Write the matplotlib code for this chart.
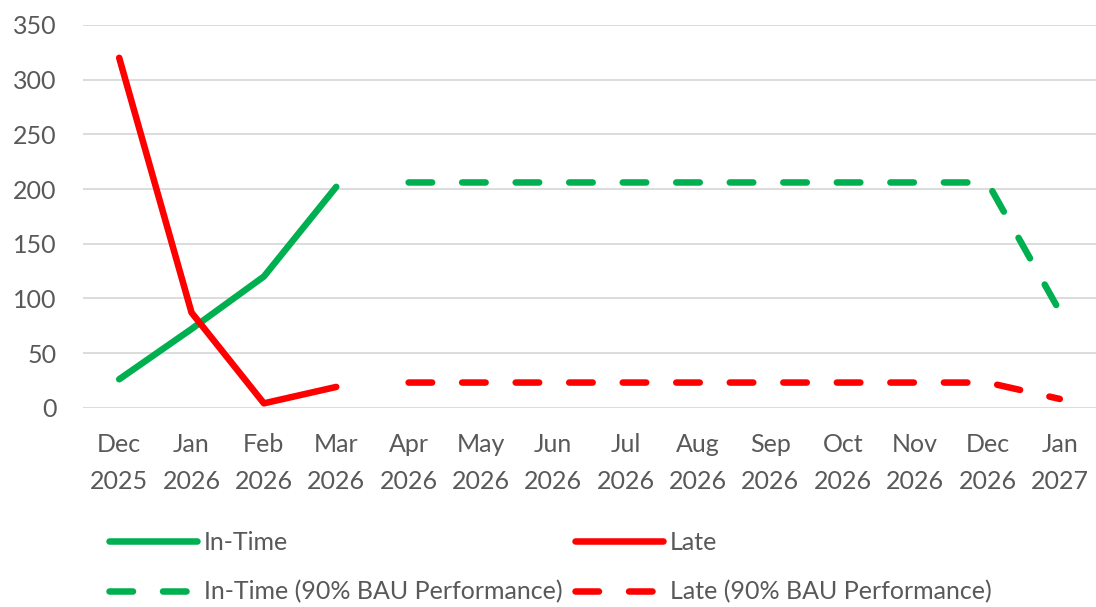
import numpy as np
import matplotlib
matplotlib.use("Agg")
import matplotlib.pyplot as plt

plt.rcParams["font.family"] = ["Lato", "DejaVu Sans"]

# ---------- data ----------
months = ["Dec\n2025", "Jan\n2026", "Feb\n2026", "Mar\n2026", "Apr\n2026", "May\n2026",
          "Jun\n2026", "Jul\n2026", "Aug\n2026", "Sep\n2026", "Oct\n2026", "Nov\n2026",
          "Dec\n2026", "Jan\n2027"]
in_time = [26, 72, 120, 202]
late = [320, 87, 4, 19]
in_time_bau = [206, 206, 206, 206, 206, 206, 206, 206, 206, 88]
late_bau = [23, 23, 23, 23, 23, 23, 23, 23, 23, 8]

GREEN = "#00B050"
RED = "#FF0000"
GREY = "#595959"

x = np.arange(len(months))
fig = plt.figure(figsize=(10.96, 6.07), dpi=100)
ax = fig.add_axes([83 / 1096, 1 - 407.7 / 607, 1 - 83 / 1096, (407.7 - 25) / 607])

lw = 4.7
kw = dict(lw=lw, solid_capstyle="round", dash_capstyle="round", clip_on=False, zorder=3)
ax.plot(x[:4], in_time, color=GREEN, label="In-Time", **kw)
ax.plot(x[:4], late, color=RED, label="Late", **kw)
ax.plot(x[4:], in_time_bau, color=GREEN, dashes=(3.6, 4.6),
        label="In-Time (90% BAU Performance)", **kw)
ax.plot(x[4:], late_bau, color=RED, dashes=(3.6, 4.6),
        label="Late (90% BAU Performance)", **kw)

ax.set_xlim(-0.5, len(months) - 0.5)
ax.set_ylim(0, 350)
ax.set_yticks(np.arange(0, 351, 50))
ax.set_xticks(x)
ax.set_xticklabels(months, linespacing=1.75)
ax.grid(axis="y", color="#d9d9d9", lw=1.3, zorder=0)
ax.set_axisbelow(True)
for s in ax.spines.values():
    s.set_visible(False)
ax.tick_params(axis="y", length=0, pad=19, labelsize=18, labelcolor=GREY)
ax.tick_params(axis="x", length=0, pad=18, labelsize=18, labelcolor=GREY)

h, l = ax.get_legend_handles_labels()
order = [0, 2, 1, 3]
fig.legend([h[i] for i in order], [l[i] for i in order], ncol=2,
           loc="upper left", bbox_to_anchor=(109 / 1096, 1 - 531 / 607),
           frameon=False, fontsize=18, handlelength=3.5, handletextpad=0.3,
           columnspacing=0.5, labelspacing=1.05, borderpad=0, borderaxespad=0,
           labelcolor=GREY)

fig.savefig("out.png", dpi=100)
